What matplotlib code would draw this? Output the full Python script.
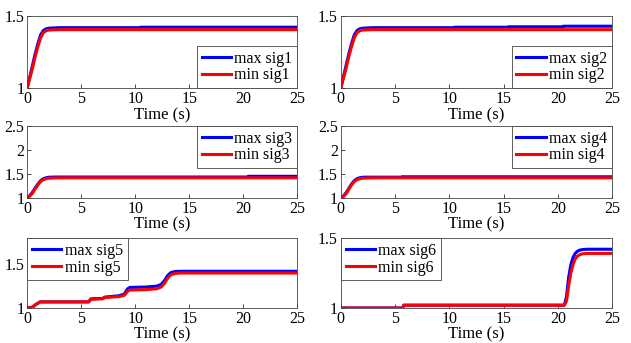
import matplotlib
matplotlib.use('Agg')
import matplotlib.pyplot as plt

plt.rcParams['font.family'] = ['Liberation Serif', 'DejaVu Serif']
plt.rcParams['font.size'] = 11

# time stamps and values
t1 = [0, 0.25, 0.5, 0.75, 1.0, 1.25, 1.5, 1.75, 2.0, 2.5, 3.0, 10.5, 10.5, 25]
max1 = [1.0, 1.08, 1.16, 1.24, 1.31, 1.37, 1.40, 1.412, 1.416, 1.418, 1.42, 1.42, 1.423, 1.423]
min1 = [1.0, 1.07, 1.14, 1.22, 1.29, 1.35, 1.385, 1.398, 1.403, 1.405, 1.406, 1.406, 1.406, 1.406]

t2 = [0, 0.25, 0.5, 0.75, 1.0, 1.25, 1.5, 1.75, 2.0, 2.5, 3.0, 10.5, 10.5, 15.5, 15.5, 20.5, 20.5, 25]
max2 = [1.0, 1.08, 1.16, 1.24, 1.31, 1.37, 1.40, 1.412, 1.416, 1.418, 1.42, 1.42, 1.423, 1.423, 1.426, 1.426, 1.43, 1.43]
min2 = [1.0, 1.07, 1.14, 1.22, 1.29, 1.35, 1.385, 1.398, 1.403, 1.405, 1.406, 1.406, 1.406, 1.406, 1.406, 1.406, 1.406, 1.406]

t3 = [0, 0.25, 0.5, 0.75, 1.0, 1.25, 1.5, 1.75, 2.0, 2.5, 3.0, 20.5, 20.5, 25]
max3 = [1.0, 1.05, 1.12, 1.21, 1.29, 1.36, 1.40, 1.42, 1.43, 1.435, 1.435, 1.435, 1.45, 1.45]
min3 = [1.0, 1.04, 1.10, 1.19, 1.27, 1.34, 1.38, 1.40, 1.41, 1.415, 1.418, 1.418, 1.418, 1.418]

t4 = [0, 0.25, 0.5, 0.75, 1.0, 1.25, 1.5, 1.75, 2.0, 2.5, 3.0, 5.7, 5.7, 25]
max4 = [1.0, 1.04, 1.11, 1.20, 1.29, 1.36, 1.40, 1.42, 1.43, 1.432, 1.432, 1.432, 1.44, 1.44]
min4 = [1.0, 1.03, 1.09, 1.18, 1.27, 1.34, 1.38, 1.40, 1.41, 1.415, 1.418, 1.418, 1.418, 1.418]

t5 = [0, 0.5, 0.8, 1.2, 5.7, 5.9, 7.0, 7.2, 8.5, 9.0, 9.3, 9.5, 11.0, 12.0, 12.4, 12.7, 13.0, 13.3, 13.7, 14.2, 25]
max5 = [1.0, 1.01, 1.04, 1.07, 1.07, 1.105, 1.11, 1.125, 1.14, 1.16, 1.22, 1.235, 1.24, 1.25, 1.27, 1.31, 1.37, 1.405, 1.418, 1.42, 1.42]
min5 = [1.0, 1.01, 1.04, 1.07, 1.07, 1.10, 1.105, 1.12, 1.13, 1.145, 1.19, 1.205, 1.21, 1.22, 1.24, 1.28, 1.34, 1.38, 1.395, 1.40, 1.40]

t6 = [0, 5.7, 5.8, 20.6, 20.8, 21.0, 21.2, 21.4, 21.6, 21.8, 22.0, 22.3, 22.7, 25]
max6 = [1.0, 1.0, 1.02, 1.02, 1.08, 1.22, 1.31, 1.36, 1.39, 1.405, 1.413, 1.418, 1.42, 1.42]
min6 = [1.0, 1.0, 1.02, 1.02, 1.05, 1.16, 1.25, 1.31, 1.35, 1.37, 1.38, 1.388, 1.39, 1.39]

panels = [
    (t1, max1, min1, 'sig1', (1, 1.5), [1, 1.5], 'lower right'),
    (t2, max2, min2, 'sig2', (1, 1.5), [1, 1.5], 'lower right'),
    (t3, max3, min3, 'sig3', (1, 2.5), [1, 1.5, 2, 2.5], 'upper right'),
    (t4, max4, min4, 'sig4', (1, 2.5), [1, 1.5, 2, 2.5], 'upper right'),
    (t5, max5, min5, 'sig5', (1, 1.8), [1, 1.5], 'upper left'),
    (t6, max6, min6, 'sig6', (1, 1.5), [1, 1.5], 'upper left'),
]

fig = plt.figure(figsize=(6.31, 3.43), dpi=100)
lefts = [0.043, 0.540]
bottoms = [0.743, 0.423, 0.102]
heights = [0.210, 0.210, 0.204]
widths = [0.428, 0.430]

for i, (t, mx, mn, name, ylim, yt, loc) in enumerate(panels):
    r, c = divmod(i, 2)
    ax = fig.add_axes([lefts[c], bottoms[r], widths[c], heights[r]])
    ax.plot(t, mx, color='blue', lw=2.2, label='max ' + name)
    ax.plot(t, mn, color='red', lw=2.2, label='min ' + name)
    ax.set_xlim(0, 25)
    ax.set_ylim(*ylim)
    ax.set_xticks([0, 5, 10, 15, 20, 25])
    ax.set_yticks(yt)
    ax.set_yticklabels([('%g' % v) for v in yt])
    ax.tick_params(direction='in', length=3, width=0.5, pad=2, labelsize=11.5)
    ax.set_xlabel('Time (s)', fontsize=12, labelpad=0)
    for s in ax.spines.values():
        s.set_linewidth(0.6)
        s.set_color('#444444')
    leg = ax.legend(loc=loc, borderaxespad=0, handlelength=1.85, fancybox=False,
                    framealpha=1, edgecolor='#444444', fontsize=11.5,
                    borderpad=0.3, labelspacing=0.05, handletextpad=0.2)
    leg.get_frame().set_linewidth(0.6)

fig.savefig('out.png', dpi=100)
